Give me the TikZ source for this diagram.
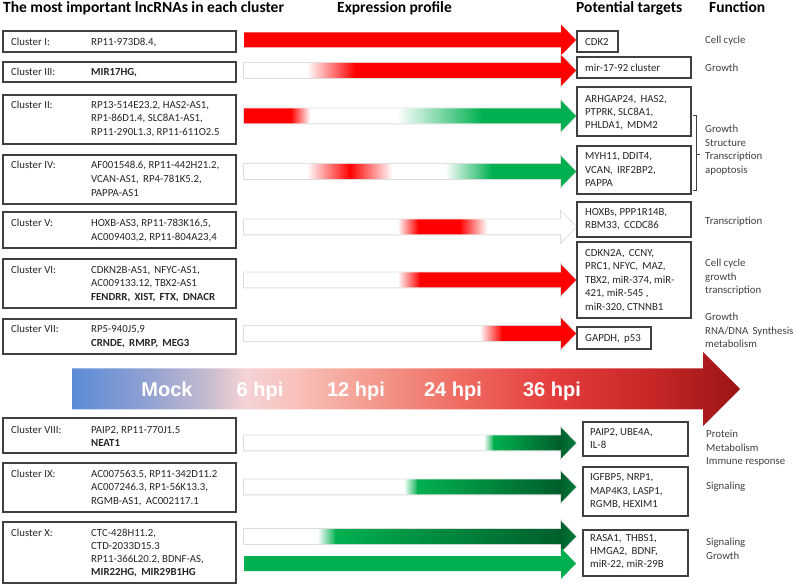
\documentclass[tikz,border=0pt]{standalone}
\usepackage{fontspec}
\setmainfont{Carlito}
\newfontfamily\arialfont{Liberation Sans}
\definecolor{rd}{HTML}{FF0000}
\definecolor{gn}{HTML}{00B050}
\definecolor{dgn}{HTML}{005E2C}
\definecolor{gnb}{HTML}{00863D}
\definecolor{bdr}{HTML}{404040}
\definecolor{txtc}{HTML}{262626}
\definecolor{fnc}{HTML}{404040}
\definecolor{olc}{HTML}{DCDCDC}
\definecolor{ba1}{HTML}{5B8BD6}
\definecolor{ba2}{HTML}{93A2D2}
\definecolor{ba3}{HTML}{C4BACF}
\definecolor{ba4}{HTML}{F5D3D5}
\definecolor{ba5}{HTML}{F8BFB8}
\definecolor{ba6}{HTML}{F4A194}
\definecolor{ba7}{HTML}{EF6E64}
\definecolor{ba8}{HTML}{E33C3C}
\definecolor{ba9}{HTML}{C72727}
\definecolor{ba10}{HTML}{9B1414}
\tikzset{
  box/.style={draw=bdr, line width=1.1pt, fill=white, inner sep=0pt, outer sep=0pt},
  txt/.style={inner sep=0pt, text=txtc, font=\fontsize{10.8}{13}\selectfont},
  fn/.style={txt, text=fnc},
  hdr/.style={inner sep=0pt, text=black, font=\bfseries\fontsize{15.5}{18}\selectfont},
  hpi/.style={inner sep=0pt, text=white, font=\arialfont\bfseries\fontsize{20}{24}\selectfont},
  ol/.style={draw=olc, line width=1.6pt},
  brk/.style={draw=fnc, line width=0.7pt},
}
% arrow outline path, centre y = #1
\newcommand\arrp[1]{(244,#1-7.5) -- (561,#1-7.5) -- (561,#1-15.5) -- (576,#1) -- (561,#1+15.5) -- (561,#1+7.5) -- (244,#1+7.5) -- cycle}
% shaded segment: x1, cy, x2, c1, c2
\newcommand\segs[5]{\shade[left color=#4,right color=#5] (#1-0.3,#2-17) rectangle (#3+0.3,#2+17);}
% solid segment: x1, cy, x2, colour
\newcommand\segf[4]{\fill[#4] (#1-0.3,#2-17) rectangle (#3+0.3,#2+17);}
% gradient arrow with outline
\newcommand\garr[2]{\draw[ol] \arrp{#1};
  \begin{scope}\clip \arrp{#1}; \fill[white] (240,#1-17) rectangle (580,#1+17); #2 \end{scope}}
% box node: name, x1, y1, x2, y2
\newcommand\bx[5]{\node[box, anchor=north west, minimum width=#4-#2, minimum height=#5-#3] (#1) at (#2,#3) {};}
% text lines: [style] name, x, first centre y, spacing, lines
\newcommand\tl[6][txt]{\foreach \t [count=\i from 0] in {#6} {\node[#1, anchor=base west] (#2-\i) at (#3, #4+3.6+\i*#5) {\t};}}
\begin{document}
\begin{tikzpicture}[x=1pt, y=-1pt]
\useasboundingbox (0,0) rectangle (796,585);

% headers
\node[hdr, anchor=base west] (h1) at (3,13) {The most important lncRNAs in each cluster};
\node[hdr, anchor=base west] (h2) at (337,13) {Expression profile};
\node[hdr, anchor=base west] (h3) at (576,13) {Potential targets};
\node[hdr, anchor=base west] (h4) at (709,13) {Function};

% cluster boxes
\bx{c1}{3}{31}{236}{52}
\bx{c3}{3}{62}{236}{82}
\bx{c2}{3}{95}{236}{144}
\bx{c4}{3}{155}{236}{204}
\bx{c5}{3}{212}{236}{248}
\bx{c6}{3}{259}{236}{308}
\bx{c7}{3}{319}{236}{354}
\bx{c8}{3}{418}{236}{453}
\bx{c9}{3}{463}{236}{512}
\bx{c10}{3}{522}{236}{583}

\tl{l1}{11}{42}{13.5}{{Cluster I:}}
\tl{t1}{91}{42}{13.5}{{RP11-973D8.4,}}
\tl{l3}{11}{72}{13.5}{{Cluster III:}}
\tl{t3}{91}{72}{13.5}{{\textbf{MIR17HG,}}}
\tl{l2}{11}{104.5}{13.5}{{Cluster II:}}
\tl{t2}{91}{104.5}{13.5}{{RP13-514E23.2, HAS2-AS1,},{RP1-86D1.4, SLC8A1-AS1,},{RP11-290L1.3, RP11-611O2.5}}
\tl{l4}{11}{165}{13.5}{{Cluster IV:}}
\tl{t4}{91}{165}{13.8}{{AF001548.6, RP11-442H21.2,},{VCAN-AS1,\, RP4-781K5.2,},{PAPPA-AS1}}
\tl{l5}{11}{222.5}{13.5}{{Cluster V:}}
\tl{t5}{91}{222.5}{14}{{HOXB-AS3, RP11-783K16,5,},{AC009403,2, RP11-804A23,4}}
\tl{l6}{11}{269.5}{13.5}{{Cluster VI:}}
\tl{t6}{91}{269.5}{13.5}{{CDKN2B-AS1,\, NFYC-AS1,},{AC009133.12, TBX2-AS1},{\textbf{FENDRR,\, XIST,\, FTX,\, DNACR}}}
\tl{l7}{11}{329}{13.5}{{Cluster VII:}}
\tl{t7}{91}{329}{13.5}{{RP5-940J5,9},{\textbf{CRNDE,\, RMRP,\, MEG3}}}
\tl{l8}{11}{429.5}{13.5}{{Cluster VIII:}}
\tl{t8}{91}{429.5}{13.5}{{PAIP2, RP11-770J1.5},{\textbf{NEAT1}}}
\tl{l9}{11}{473.5}{13.5}{{Cluster IX:}}
\tl{t9}{91}{473.5}{13.5}{{AC007563.5, RP11-342D11.2},{AC007246.3, RP1-56K13.3,},{RGMB-AS1,\, AC002117.1}}
\tl{l10}{11}{533}{13.5}{{Cluster X:}}
\tl{t10}{91}{533}{13}{{CTC-428H11.2,},{CTD-2033D15.3},{RP11-366L20.2, BDNF-AS,},{\textbf{MIR22HG,\, MIR29B1HG}}}

% expression arrows
% I
\begin{scope}\clip \arrp{40}; \segf{240}{40}{580}{rd} \end{scope}
% III
\garr{70.5}{\segs{307}{70.5}{355}{white}{rd} \segf{355}{70.5}{580}{rd}}
% II
\garr{116}{\segf{240}{116}{291}{rd} \segs{291}{116}{310}{rd}{white} \segs{397}{116}{482}{white}{gn} \segf{482}{116}{580}{gn}}
% IV
\garr{171.5}{\segs{307}{171.5}{350}{white}{rd} \segs{350}{171.5}{392}{rd}{white} \segs{445}{171.5}{492}{white}{gn} \segf{492}{171.5}{580}{gn}}
% V
\garr{227}{\segs{398}{227}{418}{white}{rd} \segf{418}{227}{460}{rd} \segs{460}{227}{487}{rd}{white}}
% VI
\garr{280}{\segs{398}{280}{420}{white}{rd} \segf{420}{280}{580}{rd}}
% VII
\garr{333.5}{\segs{480}{333.5}{502}{white}{rd} \segf{502}{333.5}{580}{rd}}
% VIII
\garr{443}{\segs{484}{443}{494}{white}{gn} \segs{494}{443}{560}{gn}{dgn} \segs{560}{443}{580}{dgn}{gnb}}
% IX
\garr{487}{\segs{404}{487}{418}{white}{gn} \segs{418}{487}{560}{gn}{dgn} \segs{560}{487}{580}{dgn}{gnb}}
% X (1)
\garr{536.5}{\segs{318}{536.5}{336}{white}{gn} \segs{336}{536.5}{560}{gn}{dgn} \segs{560}{536.5}{580}{dgn}{gnb}}
% X (2)
\begin{scope}\clip \arrp{563.5}; \segf{240}{563.5}{580}{gn} \end{scope}

% big time arrow
\begin{scope}
\clip (72,368.5) -- (703,368.5) -- (703,352) -- (740,389) -- (703,426) -- (703,409.5) -- (72,409.5) -- cycle;
\shade[left color=ba1,right color=ba2] (71.5,350) rectangle (150.5,428);
\shade[left color=ba2,right color=ba3] (150,350) rectangle (205.5,428);
\shade[left color=ba3,right color=ba4] (205,350) rectangle (245.5,428);
\shade[left color=ba4,right color=ba5] (245,350) rectangle (300.5,428);
\shade[left color=ba5,right color=ba6] (300,350) rectangle (360.5,428);
\shade[left color=ba6,right color=ba7] (360,350) rectangle (455.5,428);
\shade[left color=ba7,right color=ba8] (455,350) rectangle (555.5,428);
\shade[left color=ba8,right color=ba9] (555,350) rectangle (650.5,428);
\shade[left color=ba9,right color=ba10] (650,350) rectangle (741,428);
\end{scope}
\node[hpi, anchor=base] (mock) at (167,396.5) {Mock};
\node[hpi, anchor=base] (h6) at (260,396.5) {6 hpi};
\node[hpi, anchor=base] (h12) at (356,396.5) {12 hpi};
\node[hpi, anchor=base] (h24) at (453,396.5) {24 hpi};
\node[hpi, anchor=base] (h36) at (552,396.5) {36 hpi};

% target boxes
\bx{p1}{577}{31}{618}{52}
\bx{p3}{577}{57}{691}{78}
\bx{p2}{577}{87}{691}{136}
\bx{p4}{577}{146}{691}{194}
\bx{p5}{577}{202}{691}{237}
\bx{p6}{577}{242}{691}{318}
\bx{p7}{577}{327}{651}{349}
\bx{p8}{583}{422}{688}{456}
\bx{p9}{583}{467}{688}{516}
\bx{p10}{583}{530}{688}{576}

\tl{q1}{585}{41.5}{13.5}{{CDK2}}
\tl{q3}{585}{67.5}{13.5}{{mir-17-92 cluster}}
\tl{q2}{585}{99}{13.2}{{ARHGAP24,\, HAS2,},{PTPRK, SLC8A1,},{PHLDA1,\, MDM2}}
\tl{q4}{585}{156}{13.5}{{MYH11, DDIT4,},{VCAN,\, IRF2BP2,},{PAPPA}}
\tl{q5}{585}{212}{12.8}{{HOXBs, PPP1R14B,},{RBM33,\, CCDC86}}
\tl{q6}{585}{253}{13.4}{{CDKN2A,\, CCNY,},{PRC1, NFYC,\, MAZ,},{TBX2, miR-374, miR-},{421, miR-545 ,},{miR-320, CTNNB1}}
\tl{q7}{585}{338}{13.5}{{GAPDH,\, p53}}
\tl{q8}{590}{432}{13}{{PAIP2, UBE4A,},{IL-8}}
\tl{q9}{590}{477}{13.5}{{IGFBP5, NRP1,},{MAP4K3, LASP1,},{RGMB, HEXIM1}}
\tl{q10}{590}{538}{12.8}{{RASA1,\, THBS1,},{HMGA2,\, BDNF,},{miR-22, miR-29B}}

% bracket for clusters II and IV
\coordinate (k1) at (693,115);
\coordinate (k2) at (693,190);
\draw[brk] (k1) -- ++(3.5,0) |- (k2);
\draw[brk] (696.5,154) -- ++(3,0);

% functions
\tl[fn]{f1}{705}{40}{13.5}{{Cell cycle}}
\tl[fn]{f3}{705}{68}{13.5}{{Growth}}
\tl[fn]{f2}{705}{129}{13.5}{{Growth},{Structure},{Transcription},{apoptosis}}
\tl[fn]{f5}{705}{221}{13.5}{{Transcription}}
\tl[fn]{f6}{705}{263}{13.5}{{Cell cycle},{growth},{transcription}}
\tl[fn]{f7}{705}{317}{13.5}{{Growth},{RNA/DNA\, Synthesis},{metabolism}}
\tl[fn]{f8}{706}{434}{13.5}{{Protein},{Metabolism},{Immune response}}
\tl[fn]{f9}{706}{486}{13.5}{{Signaling}}
\tl[fn]{f10}{706}{542}{13.5}{{Signaling},{Growth}}
\end{tikzpicture}
\end{document}
